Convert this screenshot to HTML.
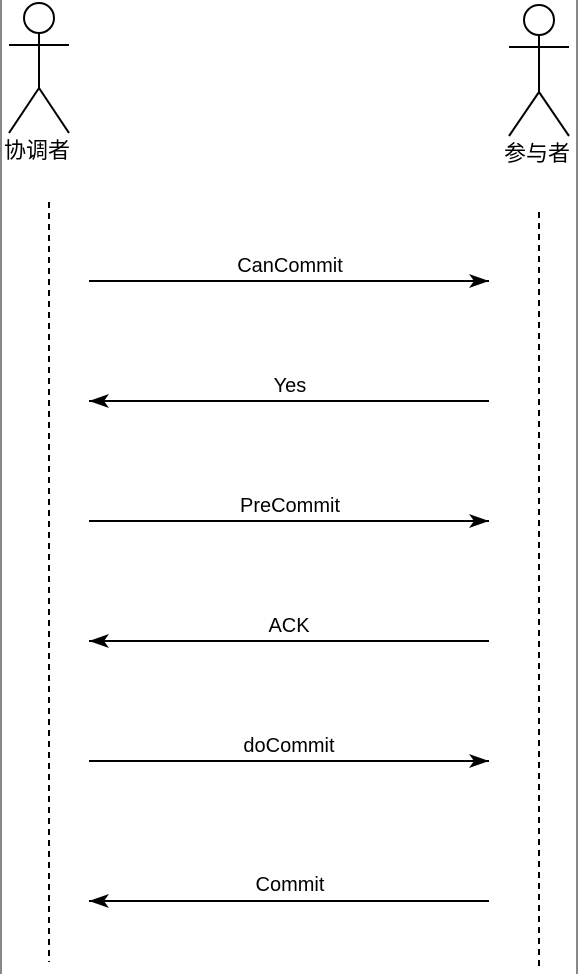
<!DOCTYPE html>
<html><head><meta charset="utf-8"><style>html,body{margin:0;padding:0;background:#fff}svg{display:block}</style></head>
<body>
<svg width="578" height="974" viewBox="0 0 578 974" xmlns="http://www.w3.org/2000/svg" font-family="Liberation Sans, Noto Sans CJK SC, sans-serif">
<defs>
<marker id="a" viewBox="0 0 20 14" refX="20" refY="7" markerWidth="20" markerHeight="14" markerUnits="userSpaceOnUse" orient="auto">
<path d="M0,0 L20,7 L0,14 L5,7 Z" fill="#000"/></marker>
</defs>
<rect x="0" y="0" width="2" height="974" fill="#888"/>
<rect x="576" y="0" width="2" height="974" fill="#888"/>
<g stroke="#000" stroke-width="2" fill="none">
<circle cx="39" cy="18" r="15"/>
<line x1="39" y1="33" x2="39" y2="88"/>
<line x1="9" y1="45" x2="69" y2="45"/>
<line x1="39" y1="88" x2="9" y2="133"/>
<line x1="39" y1="88" x2="69" y2="133"/>
<circle cx="539" cy="20" r="15"/>
<line x1="539" y1="35" x2="539" y2="92"/>
<line x1="509" y1="47" x2="569" y2="47"/>
<line x1="539" y1="92" x2="509" y2="136"/>
<line x1="539" y1="92" x2="569" y2="136"/>
</g>
<text x="37" y="158" font-size="22" text-anchor="middle">协调者</text>
<text x="537" y="161" font-size="22" text-anchor="middle">参与者</text>
<g stroke="#000" stroke-width="2" stroke-dasharray="6,5">
<line x1="49" y1="202" x2="49" y2="962"/>
<line x1="539" y1="212" x2="539" y2="970"/>
</g>
<g stroke="#000" stroke-width="2">
<line x1="89" y1="281" x2="489" y2="281" marker-end="url(#a)"/>
<line x1="489" y1="401" x2="89" y2="401" marker-end="url(#a)"/>
<line x1="89" y1="521" x2="489" y2="521" marker-end="url(#a)"/>
<line x1="489" y1="641" x2="89" y2="641" marker-end="url(#a)"/>
<line x1="89" y1="761" x2="489" y2="761" marker-end="url(#a)"/>
<line x1="489" y1="901" x2="89" y2="901" marker-end="url(#a)"/>
</g>
<g font-size="20" text-anchor="middle" fill="#000">
<text x="290" y="272">CanCommit</text>
<text x="290" y="392">Yes</text>
<text x="290" y="512">PreCommit</text>
<text x="289" y="632">ACK</text>
<text x="289" y="752">doCommit</text>
<text x="290" y="891">Commit</text>
</g>
</svg>
</body></html>
